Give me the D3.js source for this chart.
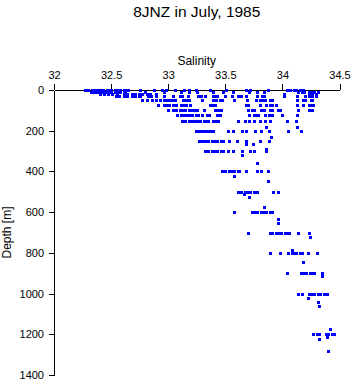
<!DOCTYPE html>
<html>
<head>
<meta charset="utf-8">
<script src="https://cdn.jsdelivr.net/npm/d3@7"></script>
<style>
  body { margin: 0; background: #fff; }
</style>
</head>
<body>
<div id="maViz"></div>
<script>
// Salinity / depth scatter - 8JNZ, July 1985

// ---- data ----
const depths = [0, 10, 20, 30, 50, 75, 100, 125, 150, 200, 250, 300, 400, 500, 600, 700, 800, 900, 1000, 1200];

const salinities = [
  [32.27, 32.30, 32.33, 32.35, 32.38, 32.40, 32.43, 32.46, 32.47, 32.50, 32.53, 32.55, 32.58, 32.61, 32.63, 32.65, 32.75, 32.88, 32.95, 32.98, 33.06, 33.14, 33.18, 33.24, 33.37, 33.51, 33.68, 33.72, 33.87, 34.04, 34.07, 34.10, 34.12, 34.15, 34.18],
  [32.32, 32.34, 32.37, 32.39, 32.42, 32.45, 32.47, 32.50, 32.53, 32.55, 32.58, 32.61, 32.62, 32.80, 32.96, 33.11, 33.18, 33.25, 33.39, 33.48, 33.57, 33.71, 33.78, 33.84, 34.14, 34.17, 34.19, 34.23, 34.25, 34.28, 34.31],
  [32.40, 32.44, 32.47, 32.51, 32.55, 32.61, 32.64, 32.68, 32.71, 32.74, 32.77, 32.81, 32.84, 32.89, 34.01, 34.23, 34.26, 34.29],
  [32.54, 32.57, 32.61, 32.64, 32.68, 32.71, 32.74, 32.75, 32.82, 32.85, 32.89, 32.96, 33.04, 33.10, 33.12, 33.17, 33.26, 33.29, 33.32, 33.39, 33.41, 33.43, 33.50, 33.56, 33.61, 33.64, 33.68, 33.78, 33.82, 33.84, 34.01, 34.13, 34.20, 34.23, 34.26, 34.29],
  [32.77, 32.81, 32.86, 32.89, 32.93, 32.96, 32.99, 33.02, 33.04, 33.06, 33.13, 33.16, 33.18, 33.30, 33.39, 33.42, 33.45, 33.47, 33.58, 33.69, 33.77, 33.80, 33.82, 33.85, 33.89, 33.91, 34.13, 34.18, 34.20, 34.25, 34.26],
  [32.91, 32.96, 32.98, 33.01, 33.04, 33.07, 33.11, 33.13, 33.16, 33.19, 33.37, 33.39, 33.41, 33.68, 33.70, 33.80, 33.86, 33.89, 33.91, 33.94, 34.13, 34.18, 34.23, 34.25, 34.27],
  [33.00, 33.04, 33.07, 33.10, 33.12, 33.15, 33.18, 33.20, 33.23, 33.25, 33.31, 33.41, 33.44, 33.46, 33.70, 33.73, 33.75, 33.81, 33.84, 33.89, 33.91, 33.96, 33.98, 34.14, 34.23, 34.26],
  [33.08, 33.11, 33.13, 33.16, 33.18, 33.21, 33.24, 33.26, 33.30, 33.34, 33.36, 33.43, 33.45, 33.71, 33.75, 33.77, 33.79, 33.85, 33.88, 33.91, 34.00, 34.13],
  [33.12, 33.15, 33.18, 33.20, 33.23, 33.25, 33.28, 33.31, 33.32, 33.35, 33.39, 33.41, 33.44, 33.61, 33.67, 33.71, 33.75, 33.80, 33.85, 33.89, 34.04, 34.12],
  [33.24, 33.26, 33.29, 33.31, 33.34, 33.37, 33.39, 33.52, 33.57, 33.65, 33.68, 33.76, 33.81, 33.88, 34.05, 34.16],
  [33.27, 33.30, 33.32, 33.35, 33.38, 33.40, 33.43, 33.46, 33.48, 33.53, 33.60, 33.68, 33.80, 33.88],
  [33.32, 33.35, 33.38, 33.40, 33.43, 33.46, 33.48, 33.52, 33.57, 33.65, 33.72, 33.75, 33.86],
  [33.47, 33.50, 33.53, 33.55, 33.58, 33.61, 33.62, 33.68, 33.78, 33.81, 33.87],
  [33.61, 33.64, 33.67, 33.69, 33.72, 33.75, 33.78, 33.92, 33.96],
  [33.58, 33.73, 33.75, 33.78, 33.81, 33.83, 33.86, 33.89, 33.91],
  [33.70, 33.89, 33.91, 33.94, 33.96, 33.99, 34.02, 34.04, 34.06, 34.14, 34.23],
  [33.89, 33.98, 34.05, 34.08, 34.10, 34.12, 34.15, 34.17, 34.22, 34.30],
  [34.04, 34.16, 34.18, 34.21, 34.24, 34.26, 34.28, 34.35],
  [34.14, 34.17, 34.23, 34.25, 34.28, 34.31, 34.33, 34.36, 34.39],
  [34.27, 34.30, 34.32, 34.38, 34.40, 34.43, 34.45]
];

// odd samples between the standard depths
const extraDepths = [180, 180, 230, 265, 265, 290, 320, 360, 420, 445, 510, 525, 575, 635, 655, 720, 785, 845, 915, 1020, 1040, 1060, 1175, 1215, 1225, 1280];
const extraSalinities = [33.86, 34.13, 33.90, 33.68, 33.74, 33.86, 33.65, 33.78, 33.58, 33.87, 33.66, 33.71, 33.84, 33.96, 33.96, 34.24, 34.08, 34.18, 34.35, 34.22, 34.31, 34.32, 34.42, 34.39, 34.32, 34.40];

const salTicks = [32, 32.5, 33, 33.5, 34, 34.5];
const salTickLabels = ["32", "32.5", "33", "33.5", "34", "34.5"];
const depthTicks = [0, 200, 400, 600, 800, 1000, 1200, 1400];
const depthTickLabels = ["0", "200", "400", "600", "800", "1000", "1200", "1400"];

const titre = "8JNZ in July, 1985";

/////////////////////////////////////////////////////////

// dimensions
const W = 353, H = 384;
const margin = {top: 90, left: 54};
const width = 285.5;
const height = 285;
const police = '"Liberation Sans", Arial, Helvetica, sans-serif';
const bleu = '#0000ff';

const svg = d3.select("#maViz")
  .append("svg")
    .attr("width", W)
    .attr("height", H);

const g = svg.append("g")
  .attr("transform", "translate(" + margin.left + "," + margin.top + ")");

/////////////////////////////////////////////////////////

// scales
const x = d3.scaleLinear().domain([32, 34.5]).range([0, width]);
const y = d3.scaleLinear().domain([0, 1400]).range([0, height]);

// x axis on top
const axeX = g.append("g")
  .call(d3.axisTop(x)
    .tickValues(salTicks)
    .tickFormat((d, i) => salTickLabels[i])
    .tickSize(6)
    .tickSizeOuter(0)
    .tickPadding(5));

// y axis (depth goes down)
const axeY = g.append("g")
  .call(d3.axisLeft(y)
    .tickValues(depthTicks)
    .tickFormat((d, i) => depthTickLabels[i])
    .tickSize(5)
    .tickSizeOuter(0)
    .tickPadding(5));

[axeX, axeY].forEach(a => {
  a.attr("font-family", police).attr("font-size", 11);
  a.selectAll("path, line").attr("stroke", "#000").attr("shape-rendering", "crispEdges");
  a.selectAll("text").attr("fill", "#000");
});

/////////////////////////////////////////////////////////

// points
const points = depths.flatMap((d, i) => salinities[i].map(s => ({depth: d, sal: s})))
  .concat(extraDepths.map((d, i) => ({depth: d, sal: extraSalinities[i]})));

g.append("g")
  .selectAll("rect")
  .data(points)
  .join("rect")
    .attr("x", d => Math.round(x(d.sal)) - 1)
    .attr("y", d => Math.round(y(d.depth)) - 1)
    .attr("width", 3)
    .attr("height", 3)
    .attr("fill", bleu)
    .attr("shape-rendering", "crispEdges");

/////////////////////////////////////////////////////////

// titles
svg.append("text")
  .attr("x", margin.left + width / 2)
  .attr("y", 17)
  .attr("text-anchor", "middle")
  .attr("font-family", police)
  .attr("font-size", 15.5)
  .text(titre);

svg.append("text")
  .attr("x", margin.left + width / 2)
  .attr("y", 65)
  .attr("text-anchor", "middle")
  .attr("font-family", police)
  .attr("font-size", 12)
  .text("Salinity");

svg.append("text")
  .attr("transform", "translate(11," + (margin.top + height / 2) + ") rotate(-90)")
  .attr("text-anchor", "middle")
  .attr("font-family", police)
  .attr("font-size", 12)
  .text("Depth [m]");
</script>
</body>
</html>
